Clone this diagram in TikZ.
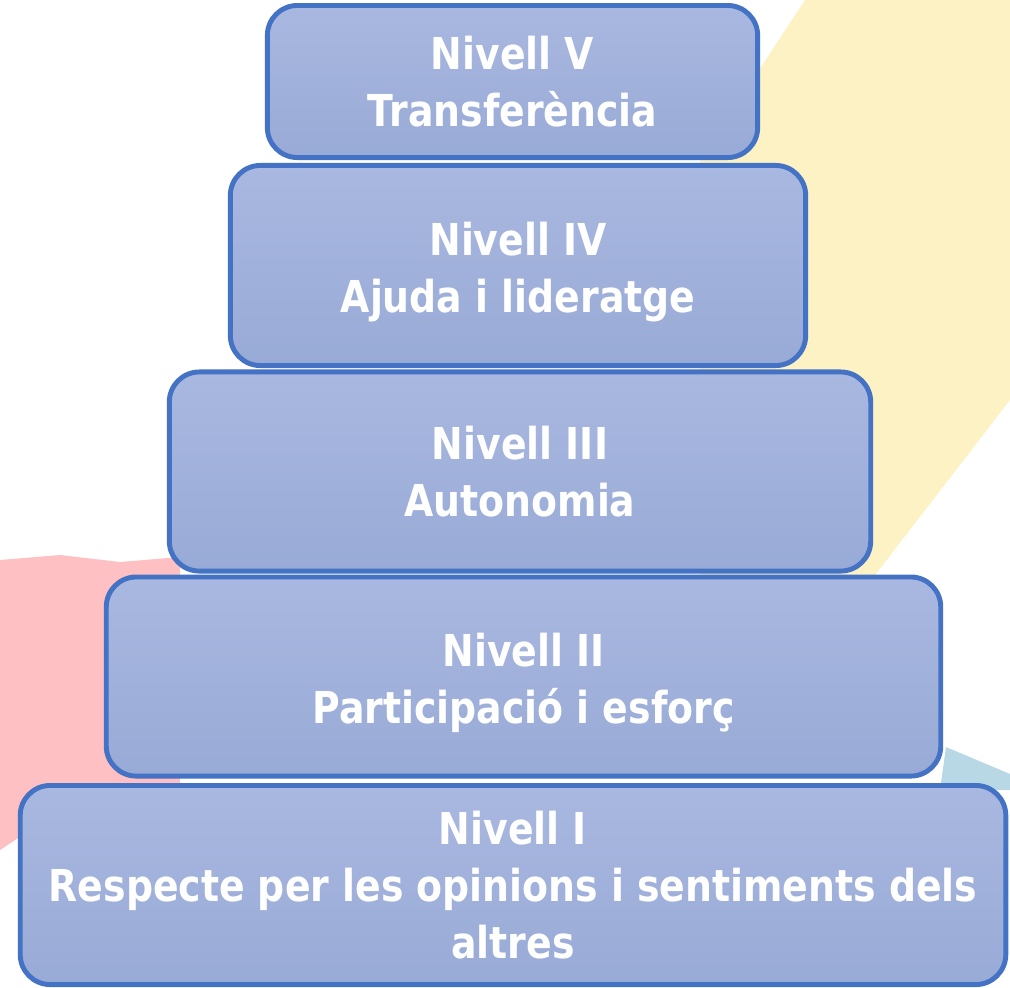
\documentclass[tikz,border=0pt]{standalone}
\usepackage{fontspec}
\setmainfont{DejaVu Sans}[FakeStretch=0.86]
\usetikzlibrary{positioning}

\definecolor{boxline}{HTML}{4472C4}
\definecolor{boxtop}{HTML}{A9B8E0}
\definecolor{boxbot}{HTML}{98AAD6}
\definecolor{bgyellow}{HTML}{FDF2C4}
\definecolor{bgpink}{HTML}{FEC0C2}
\definecolor{bgblue}{HTML}{B9D8E6}

\begin{document}
\begin{tikzpicture}[
		x=0.01cm, y=-0.01cm,
		every node/.style={
			rectangle,
			draw=boxline,
			line width=1.4pt,
			rounded corners=0.3cm,
			top color=boxtop,
			bottom color=boxbot,
			text=white,
			align=center,
			font=\fontsize{12.5}{16.2}\selectfont\bfseries
		},
		level/.style={
			minimum height=1.99cm
		}]

		\useasboundingbox[fill=white] (0,0) rectangle (1010,987);

		%background
		\fill[bgyellow] (805,0) -- (1010,0) -- (1010,400) -- (875,575) -- (700,575) -- (700,160) -- cycle;
		\fill[bgpink] (0,560) -- (60,555) -- (120,562) -- (180,557) -- (180,790) -- (90,790) -- (30,830) -- (0,850) -- cycle;
		\fill[bgblue] (946,747) -- (1010,774) -- (1010,790) -- (940,790) -- cycle;

		%levels
		\node[level, minimum width=9.85cm] at (513,885) (l1) {Nivell I\\Respecte per les opinions i sentiments dels\\altres};
		\node[level, minimum width=8.34cm] at (523.5,676.5) (l2) {\\[-0.1cm]Nivell II\\Participació i esforç};
		\node[level, minimum width=7.01cm] at (520,471.5) (l3) {Nivell III\\Autonomia};
		\node[level, minimum width=5.75cm, minimum height=2.0cm] at (518,265.5) (l4) {\\[-0.1cm]Nivell IV\\Ajuda i lideratge};
		\node[minimum width=4.90cm, minimum height=1.52cm] at (512.5,81.5) (l5) {Nivell V\\Transferència};

	\end{tikzpicture}
\end{document}
